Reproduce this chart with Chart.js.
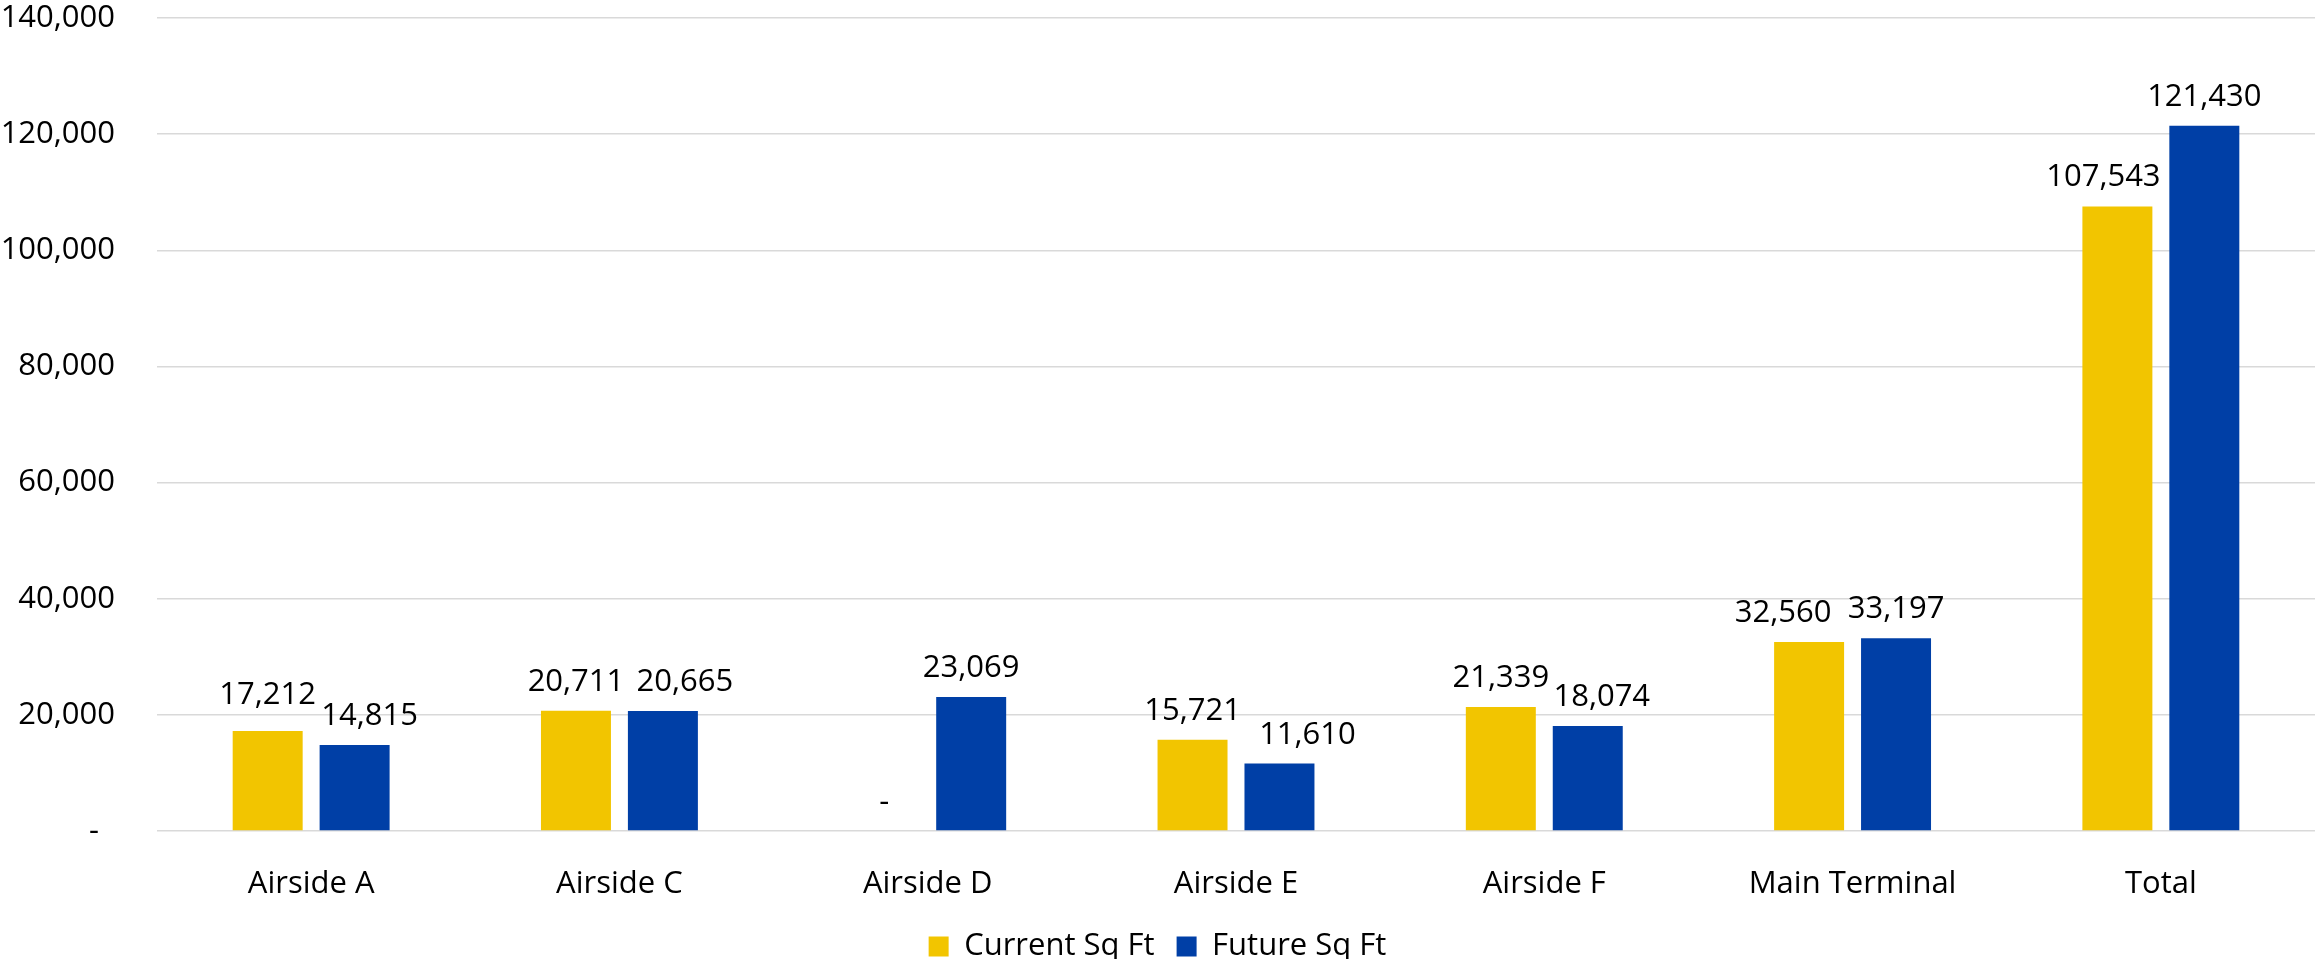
<!DOCTYPE html>
<html>
<head>
<meta charset="utf-8">
<script src="https://cdn.jsdelivr.net/npm/chart.js@4.4.1/dist/chart.umd.min.js"></script>
<style>
  html, body { margin: 0; padding: 0; background: #fff; }
  #wrap { width: 2315px; height: 959px; }
</style>
</head>
<body>
<div id="wrap"><canvas id="chart" width="2315" height="959"></canvas></div>
<script>
const categories = ["Airside A", "Airside C", "Airside D", "Airside E", "Airside F", "Main Terminal", "Total"];
const currentSqFt = [17212, 20711, 0, 15721, 21339, 32560, 107543];
const futureSqFt = [14815, 20665, 23069, 11610, 18074, 33197, 121430];
const yTicks = [0, 20000, 40000, 60000, 80000, 100000, 120000, 140000];

// small nudges so neighbouring value labels don't collide: [dx, dy] per dataset / category
const labelShift = [
  [[0, -7], [0, 0], [0, 0], [0, 0], [0, 0], [-26, 0], [-14, 0]],
  [[15, 0], [22, 0], [0, 0], [28, 0], [14, 0], [0, 0], [0, 0]]
];

const FONT = "'Open Sans', 'Noto Sans', sans-serif";
const SIZE = 31;
const fmt = v => v === 0 ? "-" : v.toLocaleString("en-US");

const valueLabels = {
  id: "valueLabels",
  afterDatasetsDraw(chart) {
    const ctx = chart.ctx;
    ctx.save();
    ctx.font = SIZE + "px " + FONT;
    ctx.fillStyle = "#000";
    ctx.textAlign = "center";
    ctx.textBaseline = "alphabetic";
    chart.data.datasets.forEach((ds, di) => {
      chart.getDatasetMeta(di).data.forEach((bar, i) => {
        const [dx, dy] = labelShift[di][i];
        ctx.fillText(fmt(ds.data[i]), bar.x + dx, bar.y - 20 + dy);
      });
    });
    ctx.restore();
  }
};

new Chart(document.getElementById("chart").getContext("2d"), {
  type: "bar",
  data: {
    labels: categories,
    datasets: [
      { label: "Current Sq Ft", data: currentSqFt, backgroundColor: "#F2C500", borderWidth: 0 },
      { label: "Future Sq Ft", data: futureSqFt, backgroundColor: "#003FA6", borderWidth: 0 }
    ]
  },
  options: {
    responsive: false,
    maintainAspectRatio: false,
    animation: false,
    categoryPercentage: 0.564,
    barPercentage: 0.805,
    layout: { padding: { top: 2, right: 0, bottom: 0, left: 0 } },
    plugins: {
      legend: {
        position: "bottom",
        maxHeight: 50,
        labels: {
          font: { family: FONT, size: SIZE },
          color: "#000",
          boxWidth: 20,
          boxHeight: 20,
          padding: 22
        }
      },
      tooltip: { enabled: false }
    },
    scales: {
      x: {
        afterFit(scale) { scale.height = 78; },
        grid: { display: false },
        border: { display: false },
        ticks: { font: { family: FONT, size: SIZE }, color: "#000", padding: 27 }
      },
      y: {
        min: 0,
        max: 140000,
        afterFit(scale) {
          scale.width = 157;
          scale.paddingTop = 18;
          scale.paddingBottom = 0;
        },
        afterBuildTicks(scale) { scale.ticks = yTicks.map(v => ({ value: v })); },
        grid: { color: "#d9d9d9", lineWidth: 1.5, drawTicks: false },
        border: { display: false },
        ticks: {
          font: { family: FONT, size: SIZE },
          color: "#000",
          padding: 42,
          callback: v => v === 0 ? "-  " : v.toLocaleString("en-US")
        }
      }
    }
  },
  plugins: [valueLabels]
});
</script>
</body>
</html>
